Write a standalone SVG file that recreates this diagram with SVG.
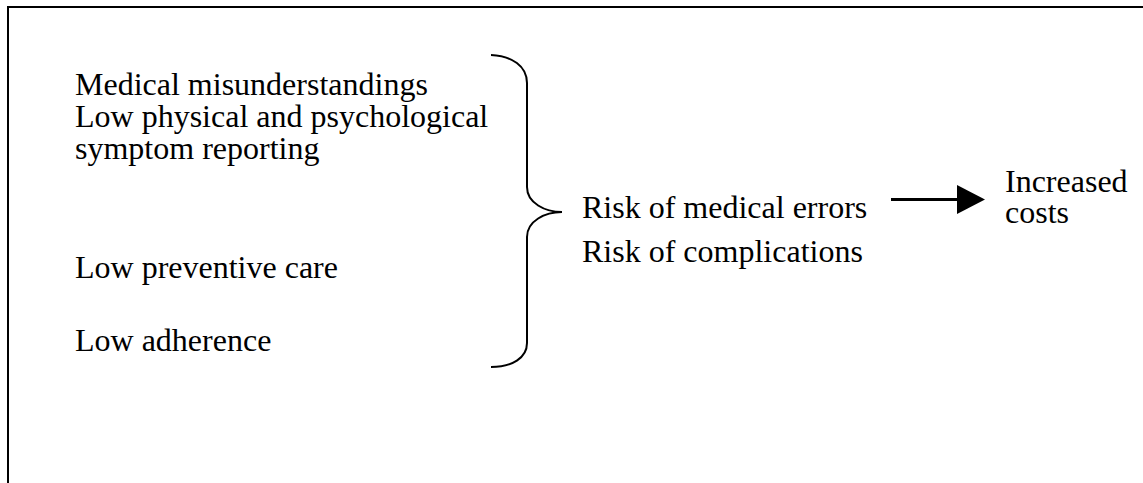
<svg xmlns="http://www.w3.org/2000/svg" width="1143" height="483" viewBox="0 0 1143 483">
<style>
text { font-family: "Liberation Serif", "Times New Roman", serif; font-size: 32px; fill: #000; }
.ln { stroke: #000; stroke-width: 2; fill: none; }
</style>
<rect x="0" y="0" width="1143" height="483" fill="#fff"/>
<g id="frame">
<path class="ln" d="M8,483 L8,7 L1143,7"/>
</g>
<g id="causes">
<text x="75" y="95">Medical misunderstandings</text>
<text x="75" y="127">Low physical and psychological</text>
<text x="75" y="159">symptom reporting</text>
<text x="75" y="278">Low preventive care</text>
<text x="75" y="351">Low adherence</text>
</g>
<g id="brace">
<path class="ln" d="M491,55 C512,56 527,66 527,83 L527,187 C527,203 545,212 562,212 C545,212 527,221 527,237 L527,343 C527,358 512,367 491,367"/>
</g>
<g id="risks">
<text x="582" y="218">Risk of medical errors</text>
<text x="582" y="262">Risk of complications</text>
</g>
<g id="outcome">
<text x="1005" y="192">Increased</text>
<text x="1005" y="223">costs</text>
</g>
<g id="connectors">
<line x1="891" y1="199.5" x2="960" y2="199.5" stroke="#000" stroke-width="3"/>
<polygon points="957,185 985,199.5 957,214" fill="#000"/>
</g>
</svg>
